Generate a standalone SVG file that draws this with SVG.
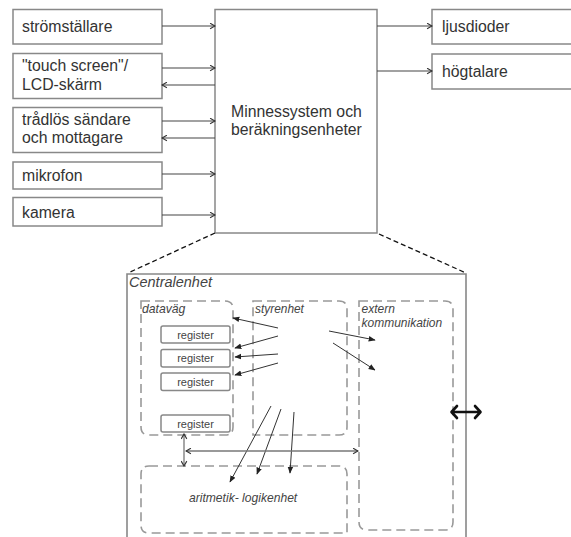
<svg xmlns="http://www.w3.org/2000/svg" width="571" height="537" viewBox="0 0 571 537">
<defs>
<marker id="chev" viewBox="0 0 10 10" refX="9" refY="5" markerWidth="7" markerHeight="7" markerUnits="userSpaceOnUse" orient="auto-start-reverse">
<path d="M2,1 L9,5 L2,9" fill="none" stroke="#333" stroke-width="1.6"/>
</marker>
<marker id="tri" viewBox="0 0 10 10" refX="9" refY="5" markerWidth="7" markerHeight="7" markerUnits="userSpaceOnUse" orient="auto-start-reverse">
<path d="M0,1 L10,5 L0,9 z" fill="#222"/>
</marker>
</defs>
<style>
.box{fill:#fff;stroke:#888;stroke-width:1.5}
.t{font-family:"Liberation Sans",Arial,sans-serif;font-size:15.8px;fill:#333}
.it{font-family:"Liberation Sans",Arial,sans-serif;font-style:italic;fill:#444}
.reg{fill:#fff;stroke:#888;stroke-width:1.5}
.rt{font-family:"Liberation Sans",Arial,sans-serif;font-size:11px;fill:#444;text-anchor:middle}
.dash{fill:none;stroke:#999;stroke-width:1.6;stroke-dasharray:9 5}
.c{fill:none;stroke:#444;stroke-width:1.2}
.ci{fill:none;stroke:#333;stroke-width:1}
</style>
<rect width="571" height="537" fill="#fff"/>

<g id="stromstallare"><rect class="box" x="13" y="9.5" width="149" height="34.5"/><text class="t" x="22" y="32">strömställare</text></g>
<g id="touch"><rect class="box" x="13" y="53.5" width="149" height="45"/><text class="t" x="22" y="71">"touch screen"/</text><text class="t" x="22" y="89.5">LCD-skärm</text></g>
<g id="tradlos"><rect class="box" x="13" y="107.5" width="149" height="45"/><text class="t" x="22" y="124.5">trådlös sändare</text><text class="t" x="22" y="143">och mottagare</text></g>
<g id="mikrofon"><rect class="box" x="13" y="162" width="149" height="27"/><text class="t" x="22" y="181">mikrofon</text></g>
<g id="kamera"><rect class="box" x="13" y="197.5" width="149" height="28.5"/><text class="t" x="22" y="217.5">kamera</text></g>
<g id="minne"><rect class="box" x="215" y="9.5" width="162" height="223.5"/><text class="t" x="231" y="117">Minnessystem och</text><text class="t" x="231" y="135">beräkningsenheter</text></g>
<g id="ljusdioder"><rect class="box" x="432" y="9.5" width="150" height="34.5"/><text class="t" x="442" y="32">ljusdioder</text></g>
<g id="hogtalare"><rect class="box" x="432" y="54" width="150" height="35"/><text class="t" x="442" y="77">högtalare</text></g>

<g id="top-connectors">
<line class="c" x1="162" y1="26" x2="215" y2="26" marker-end="url(#chev)"/>
<line class="c" x1="162" y1="68" x2="215" y2="68" marker-end="url(#chev)"/>
<line class="c" x1="215" y1="85" x2="162" y2="85" marker-end="url(#chev)"/>
<line class="c" x1="162" y1="121" x2="215" y2="121" marker-end="url(#chev)"/>
<line class="c" x1="215" y1="138" x2="162" y2="138" marker-end="url(#chev)"/>
<line class="c" x1="162" y1="174" x2="215" y2="174" marker-end="url(#chev)"/>
<line class="c" x1="162" y1="215" x2="215" y2="215" marker-end="url(#chev)"/>
<line class="c" x1="377" y1="26" x2="432" y2="26" marker-end="url(#chev)"/>
<line class="c" x1="377" y1="71" x2="432" y2="71" marker-end="url(#chev)"/>
<line x1="215" y1="233" x2="128" y2="273" stroke="#111" stroke-width="1.3" stroke-dasharray="5 3"/>
<line x1="379" y1="234" x2="466" y2="273" stroke="#111" stroke-width="1.3" stroke-dasharray="5 3"/>
</g>

<g id="centralenhet">
<path d="M127,540 V274 H466 V540" fill="none" stroke="#888" stroke-width="1.6"/>
<text class="it" x="129" y="287" font-size="14.5px">Centralenhet</text>
</g>

<g id="datavag">
<path class="dash" d="M141,301 H225 Q233,301 233,309 V427 Q233,435 225,435 H149 Q141,435 141,427 Z"/>
<text class="it" x="142" y="313" font-size="12.2px">dataväg</text>
</g>
<g id="register1"><rect class="reg" x="161" y="326" width="69" height="17" rx="2"/><text class="rt" x="195.5" y="338.5">register</text></g>
<g id="register2"><rect class="reg" x="161" y="349.5" width="69" height="17.5" rx="2"/><text class="rt" x="195.5" y="362">register</text></g>
<g id="register3"><rect class="reg" x="161" y="373" width="69" height="17.5" rx="2"/><text class="rt" x="195.5" y="385.5">register</text></g>
<g id="register4"><rect class="reg" x="161" y="415" width="69" height="17" rx="2"/><text class="rt" x="195.5" y="427.5">register</text></g>

<g id="styrenhet">
<path class="dash" d="M253,301 H339 Q347,301 347,309 V427 Q347,435 339,435 H253 Z"/>
<text class="it" x="255" y="313" font-size="11.9px">styrenhet</text>
</g>
<g id="extern">
<path class="dash" d="M359,301 H445 Q453,301 453,309 V522 Q453,530 445,530 H367 Q359,530 359,522 Z"/>
<text class="it" x="361.5" y="313" font-size="12px">extern</text>
<text class="it" x="361.5" y="326.7" font-size="12px">kommunikation</text>
</g>
<g id="alu">
<path class="dash" d="M149,466 H339 Q347,466 347,474 V533 H149 Q141,533 141,525 V474 Q141,466 149,466 Z"/>
<text class="it" x="189" y="502" font-size="12.1px">aritmetik- logikenhet</text>
</g>

<g id="inner-connectors">
<line class="ci" x1="278" y1="328" x2="233" y2="318" marker-end="url(#tri)"/>
<line class="ci" x1="278" y1="336" x2="235" y2="348" marker-end="url(#tri)"/>
<line class="ci" x1="278" y1="354" x2="235" y2="357" marker-end="url(#tri)"/>
<line class="ci" x1="278" y1="363" x2="235" y2="375" marker-end="url(#tri)"/>
<line class="ci" x1="329" y1="331" x2="375" y2="340" marker-end="url(#tri)"/>
<line class="ci" x1="333" y1="343" x2="375" y2="370" marker-end="url(#tri)"/>
<line class="ci" x1="271" y1="406" x2="230" y2="482" marker-end="url(#tri)"/>
<line class="ci" x1="281" y1="409" x2="257" y2="474" marker-end="url(#tri)"/>
<line class="ci" x1="294" y1="412" x2="290" y2="473" marker-end="url(#tri)"/>
<line x1="186" y1="451" x2="358" y2="451" stroke="#777" stroke-width="1.3" marker-start="url(#chev)" marker-end="url(#chev)"/>
<line x1="184" y1="434" x2="184" y2="466" stroke="#777" stroke-width="1.3" marker-start="url(#chev)" marker-end="url(#chev)"/>
<path d="M452,412 H480 M457,406 L451.5,412 L457,418 M475,406 L480.5,412 L475,418" fill="none" stroke="#111" stroke-width="2.6" stroke-linecap="round" stroke-linejoin="round"/>
</g>
</svg>
